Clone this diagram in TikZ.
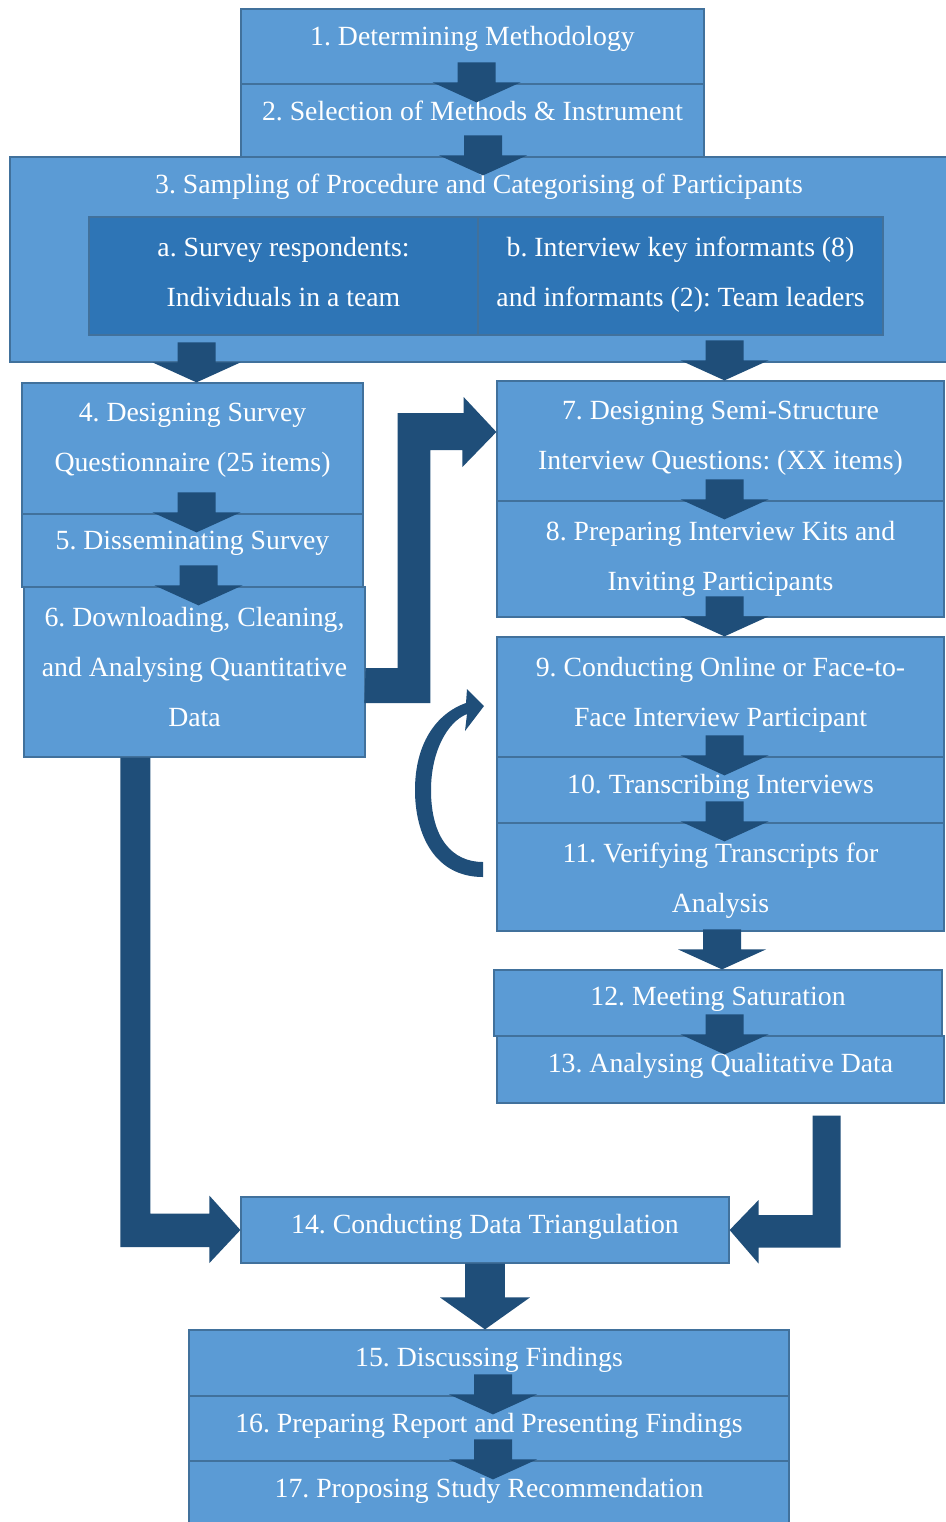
\documentclass[tikz,border=0pt]{standalone}
\usepackage{fontspec}
\setmainfont{Liberation Serif}
\frenchspacing
\usetikzlibrary{positioning,calc}
\definecolor{boxblue}{HTML}{5B9BD5}
\definecolor{edgeblue}{HTML}{41719C}
\definecolor{subblue}{HTML}{2E75B6}
\definecolor{arrowblue}{HTML}{1F4E79}
\newcommand{\pxu}{0.02cm}
\tikzstyle{stepbox} = [rectangle, fill=boxblue, draw=edgeblue, line width=0.7pt, inner sep=0pt]
\tikzstyle{subbox} = [stepbox, fill=subblue]
\tikzstyle{steptext} = [text=white, align=center, inner sep=0pt, font=\fontsize{15.8}{28.45}\selectfont]
\tikzset{
  flowarrow/.style={fill=arrowblue, to path={let \p1=(\tikztotarget.north), \p2=(\x1+2.28pt,\y1-#1) in
    (\x2-10.81pt,\y2+22.76pt) -- (\x2-10.81pt,\y2+11.38pt) -- (\x2-25.04pt,\y2+11.38pt) -- (\p2)
    -- (\x2+25.04pt,\y2+11.38pt) -- (\x2+10.81pt,\y2+11.38pt) -- (\x2+10.81pt,\y2+22.76pt) -- cycle}},
  flowarrow/.default=10.81pt,
  bigarrow/.style={fill=arrowblue, to path={let \p1=(\tikztostart.south), \p2=(\tikztotarget.north) in
    (\x1-11.38pt,\y1) -- (\x1-11.38pt,\y2+18.2pt) -- (\x1-25.6pt,\y2+18.2pt) -- (\x1,\y2)
    -- (\x1+25.6pt,\y2+18.2pt) -- (\x1+11.38pt,\y2+18.2pt) -- (\x1+11.38pt,\y1) -- cycle}}
}

\begin{document}
\begin{tikzpicture}[x=0.02cm, y=-0.02cm]
    \path[use as bounding box, fill=white] (0,0) rectangle (946,1522);

    \node[stepbox, minimum width=938*\pxu, minimum height=205*\pxu] (b3) at (479,259.5) {};
    \node[subbox, minimum width=389*\pxu, minimum height=118*\pxu] (ba) at (283.5,276) {};
    \node[subbox, minimum width=405*\pxu, minimum height=118*\pxu] (bb) at (680.5,276) {};
    \node[stepbox, minimum width=463*\pxu, minimum height=75*\pxu] (b1) at (472.5,46.5) {};
    \node[stepbox, minimum width=463*\pxu, minimum height=73*\pxu] (b2) at (472.5,120.5) {};
    \node[stepbox, minimum width=341*\pxu, minimum height=131*\pxu] (b4) at (192.5,448.5) {};
    \node[stepbox, minimum width=341*\pxu, minimum height=73*\pxu] (b5) at (192.5,550.5) {};
    \node[stepbox, minimum width=341*\pxu, minimum height=170*\pxu] (b6) at (194.5,672) {};
    \node[stepbox, minimum width=447*\pxu, minimum height=120*\pxu] (b7) at (720.5,441) {};
    \node[stepbox, minimum width=447*\pxu, minimum height=116*\pxu] (b8) at (720.5,559) {};
    \node[stepbox, minimum width=447*\pxu, minimum height=120*\pxu] (b9) at (720.5,697) {};
    \node[stepbox, minimum width=447*\pxu, minimum height=66*\pxu] (b10) at (720.5,790) {};
    \node[stepbox, minimum width=447*\pxu, minimum height=108*\pxu] (b11) at (720.5,877) {};
    \node[stepbox, minimum width=448*\pxu, minimum height=66*\pxu] (b12) at (718,1003) {};
    \node[stepbox, minimum width=447*\pxu, minimum height=67*\pxu] (b13) at (720.5,1069.5) {};
    \node[stepbox, minimum width=488*\pxu, minimum height=66*\pxu] (b14) at (485,1230) {};
    \node[stepbox, minimum width=600*\pxu, minimum height=66*\pxu] (b15) at (489,1363) {};
    \node[stepbox, minimum width=600*\pxu, minimum height=65*\pxu] (b16) at (489,1428.5) {};
    \node[stepbox, minimum width=600*\pxu, minimum height=65*\pxu] (b17) at (489,1493.5) {};

    \node[steptext, below=9.7pt of b1.north] (t1) {1. Determining Methodology};
    \node[steptext, below=9.7pt of b2.north] (t2) {2. Selection of Methods \& Instrument};
    \node[steptext, below=9.7pt of b3.north] (t3) {3. Sampling of Procedure and Categorising of Participants};
    \node[steptext, below=11.4pt of ba.north] (ta) {a. Survey respondents:\\Individuals in a team};
    \node[steptext, below=11.4pt of bb.north] (tb) {b. Interview key informants (8)\\and informants (2): Team leaders};
    \node[steptext, below=11.4pt of b4.north] (t4) {4. Designing Survey\\Questionnaire (25 items)};
    \node[steptext, below=9.7pt of b5.north] (t5) {5. Disseminating Survey};
    \node[steptext, below=11.4pt of b6.north] (t6) {6. Downloading, Cleaning,\\and Analysing Quantitative\\Data};
    \node[steptext, below=11.4pt of b7.north] (t7) {7. Designing Semi-Structure\\Interview Questions: (XX items)};
    \node[steptext, below=11.4pt of b8.north] (t8) {8. Preparing Interview Kits and\\Inviting Participants};
    \node[steptext, below=11.4pt of b9.north] (t9) {9. Conducting Online or Face-to-\\Face Interview Participant};
    \node[steptext, below=9.7pt of b10.north] (t10) {10. Transcribing Interviews};
    \node[steptext, below=11.4pt of b11.north] (t11) {11. Verifying Transcripts for\\Analysis};
    \node[steptext, below=9.7pt of b12.north] (t12) {12. Meeting Saturation};
    \node[steptext, below=9.7pt of b13.north] (t13) {13. Analysing Qualitative Data};
    \node[steptext, below=9.7pt of b14.north] (t14) {14. Conducting Data Triangulation};
    \node[steptext, below=9.7pt of b15.north] (t15) {15. Discussing Findings};
    \node[steptext, below=9.7pt of b16.north] (t16) {16. Preparing Report and Presenting Findings};
    \node[steptext, below=9.7pt of b17.north] (t17) {17. Proposing Study Recommendation};

    \fill[flowarrow] (b1) to (b2);
    \fill[flowarrow] (b2) to (b3);
    \fill[flowarrow=0pt] (b3) to (b4);
    \fill[flowarrow=0pt] (b3) to (b7);
    \fill[flowarrow] (b4) to (b5);
    \fill[flowarrow] (b5) to (b6);
    \fill[flowarrow] (b7) to (b8);
    \fill[flowarrow=0pt] (b8) to (b9);
    \fill[flowarrow] (b9) to (b10);
    \fill[flowarrow] (b10) to (b11);
    \fill[flowarrow=0pt] (b11) to (b12);
    \fill[flowarrow] (b12) to (b13);
    \fill[bigarrow] (b14) to (b15);
    \fill[flowarrow] (b15) to (b16);
    \fill[flowarrow] (b16) to (b17);

    \fill[arrowblue] (b6.east |- 0,668) -| ++(32,-255) -- ++(66,0) -- ++(0,-16) -- (b7.west |- 0,432)
        -- ++(-34,35) -- ++(0,-17) -- ++(-32,0) -- ++(0,253) -- ++(-66,0) -- cycle;
    \fill[arrowblue] (b6.south west) ++(97,0) -- ++(30,0) -- ++(0,456) -- ++(59,0) -- ++(0,-18)
        -- (b14.west) -- ++(-31,33) -- ++(0,-16) -- ++(-89,0) -- cycle;
    \fill[arrowblue] (b13.south east) ++(-132,12) -- ++(28,0) -- ++(0,132) -- ++(-82,0) -- ++(0,16)
        -- (b14.east) -- ++(29,-30) -- ++(0,15) -- ++(54,0) -- cycle;
    \fill[arrowblue] (483,877) .. controls (435,877) and (415,835) .. (415,790)
        .. controls (415,745) and (435,714) .. (466,703) -- (467,689) -- (484,706) -- (465,731) -- (467,714)
        .. controls (447,722) and (431,752) .. (431,790) .. controls (431,838) and (452,862) .. (483,862) -- cycle;
\end{tikzpicture}
\end{document}
